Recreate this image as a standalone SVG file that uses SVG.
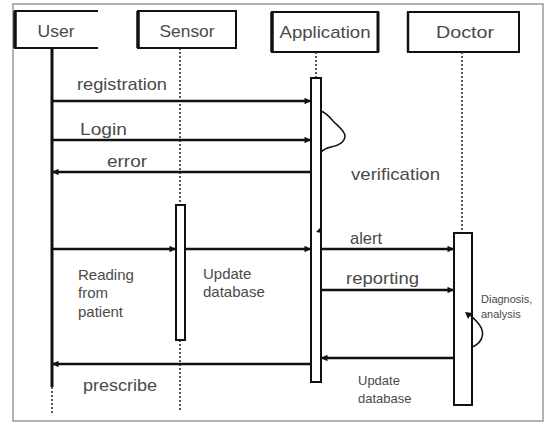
<svg xmlns="http://www.w3.org/2000/svg" width="549" height="425" viewBox="0 0 549 425">
<style>
text{font-family:"Liberation Sans",Arial,sans-serif;fill:#4a4a4a}
.hd{font-size:17px}
.lb{font-size:17px}
.sm{font-size:15px}
.xs{font-size:13px}
.ti{font-size:11px}
.box{fill:#fff;stroke:#111;stroke-width:2}
.act{fill:#fff;stroke:#111;stroke-width:2}
.msg{stroke:#111;stroke-width:2.5;fill:none}
.life{stroke:#222;stroke-width:1.5;stroke-dasharray:2 2;fill:none}
.loop{stroke:#111;stroke-width:1.5;fill:none}
</style>
<defs>
<marker id="ah" viewBox="0 0 10 10" refX="10" refY="5" markerWidth="3" markerHeight="2.6" orient="auto" markerUnits="strokeWidth">
<path d="M0,0 L10,5 L0,10 Z" fill="#111"/>
</marker>
</defs>
<rect x="0" y="0" width="549" height="425" fill="#fff"/>
<rect x="13" y="4" width="530" height="417" fill="#fff" stroke="#999" stroke-width="1.5"/>

<g id="user">
<path d="M98,11 H15 V48 H98" fill="#fff" stroke="#111" stroke-width="2"/>
<line x1="15" y1="11" x2="15" y2="48" stroke="#111" stroke-width="3.5"/>
<text class="hd" x="56" y="37" text-anchor="middle" textLength="37" lengthAdjust="spacingAndGlyphs">User</text>
<line x1="52" y1="48" x2="52" y2="387" stroke="#111" stroke-width="3"/>
<line x1="52" y1="387" x2="52" y2="414" class="life"/>
</g>

<g id="sensor">
<rect class="box" x="138" y="11" width="98" height="37"/>
<line x1="138" y1="11" x2="138" y2="48" stroke="#111" stroke-width="3.5"/>
<text class="hd" x="187" y="37" text-anchor="middle" textLength="55" lengthAdjust="spacingAndGlyphs">Sensor</text>
<line x1="180" y1="48" x2="180" y2="205" class="life"/>
<line x1="180" y1="340" x2="180" y2="412" class="life"/>
<rect class="act" x="176" y="205" width="9" height="135"/>
</g>

<g id="application">
<rect class="box" x="272" y="12" width="106" height="40"/>
<line x1="272" y1="12" x2="272" y2="52" stroke="#111" stroke-width="3.5"/>
<line x1="378" y1="12" x2="378" y2="52" stroke="#111" stroke-width="3"/>
<text class="hd" x="325" y="38" text-anchor="middle" textLength="91" lengthAdjust="spacingAndGlyphs">Application</text>
<line x1="316" y1="52" x2="316" y2="78" class="life"/>
<rect class="act" x="311" y="78" width="10" height="304"/>
<path class="loop" d="M321,111 C326,113 329,116 333,121 C338,126 345,131 345,136 C345,142 338,146 331,147 C326,148 323,150 321,152"/>
<path d="M316,232 L322,226 L322,233 Z" fill="#111"/>
</g>

<g id="doctor">
<rect class="box" x="408" y="12" width="111" height="40"/>
<line x1="408" y1="12" x2="408" y2="52" stroke="#111" stroke-width="2.5"/>
<text class="hd" x="465" y="38" text-anchor="middle" textLength="58" lengthAdjust="spacingAndGlyphs">Doctor</text>
<line x1="462" y1="52" x2="462" y2="233" class="life"/>
<rect class="act" x="454" y="233" width="18" height="172"/>
<path class="loop" d="M472,347 C480,344 484,337 482,330 C480,323 474,319 470,315"/>
<path d="M465,312 L472,313 L468,319 Z" fill="#111"/>
</g>

<g id="connectors">
<line class="msg" x1="52" y1="101" x2="311" y2="101" marker-end="url(#ah)"/>
<line class="msg" x1="52" y1="140" x2="311" y2="140" marker-end="url(#ah)"/>
<line class="msg" x1="311" y1="172" x2="52" y2="172" marker-end="url(#ah)"/>
<line class="msg" x1="52" y1="249" x2="176" y2="249" marker-end="url(#ah)"/>
<line class="msg" x1="185" y1="249" x2="311" y2="249" marker-end="url(#ah)"/>
<line class="msg" x1="321" y1="249" x2="454" y2="249" marker-end="url(#ah)"/>
<line class="msg" x1="321" y1="290" x2="454" y2="290" marker-end="url(#ah)"/>
<line class="msg" x1="454" y1="358" x2="321" y2="358" marker-end="url(#ah)"/>
<line class="msg" x1="311" y1="364" x2="52" y2="364" marker-end="url(#ah)"/>
</g>

<g id="labels">
<text class="lb" x="77" y="90" textLength="90" lengthAdjust="spacingAndGlyphs">registration</text>
<text class="lb" x="80" y="135" textLength="47" lengthAdjust="spacingAndGlyphs">Login</text>
<text class="lb" x="107" y="167" textLength="40" lengthAdjust="spacingAndGlyphs">error</text>
<text class="lb" x="351" y="180" textLength="89" lengthAdjust="spacingAndGlyphs">verification</text>
<text class="lb" x="350" y="244" textLength="32" lengthAdjust="spacingAndGlyphs">alert</text>
<text class="lb" x="346" y="284" textLength="73" lengthAdjust="spacingAndGlyphs">reporting</text>
<text class="sm" x="78" y="280">Reading</text>
<text class="sm" x="78" y="298">from</text>
<text class="sm" x="78" y="317">patient</text>
<text class="sm" x="203" y="279">Update</text>
<text class="sm" x="203" y="297">database</text>
<text class="lb" x="83" y="391" textLength="74" lengthAdjust="spacingAndGlyphs">prescribe</text>
<text class="xs" x="358" y="385">Update</text>
<text class="xs" x="358" y="403">database</text>
<text class="ti" x="481" y="303">Diagnosis,</text>
<text class="ti" x="481" y="318">analysis</text>
</g>
</svg>
